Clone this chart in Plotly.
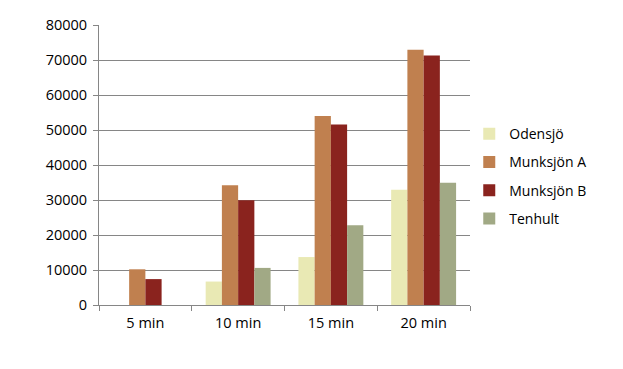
import plotly.graph_objects as go

categories = ["5 min", "10 min", "15 min", "20 min"]
odensjo = [0, 6700, 13700, 32900]
munksjon_a = [10200, 34200, 54000, 72900]
munksjon_b = [7400, 29900, 51600, 71300]
tenhult = [0, 10600, 22800, 34900]

series = [
    ("Odensjö", odensjo, "#E9E9B4"),
    ("Munksjön A", munksjon_a, "#C0804F"),
    ("Munksjön B", munksjon_b, "#8A231E"),
    ("Tenhult", tenhult, "#A1A985"),
]

fig = go.Figure()
for i, (name, vals, color) in enumerate(series):
    fig.add_trace(go.Bar(x=categories, y=vals, name=name, marker=dict(color=color, line=dict(width=0)),
                         legendgroup=f"g{i}"))

font = dict(family="Open Sans, Noto Sans, sans-serif", size=14, color="#000000")
tickfont = dict(family="Open Sans, Noto Sans, sans-serif", size=14.5, color="#000000")
fig.update_layout(
    width=623, height=369,
    margin=dict(l=91, r=161, t=17, b=72, autoexpand=False),
    paper_bgcolor="white", plot_bgcolor="white",
    barmode="group", bargap=0.30, bargroupgap=0,
    font=font,
    showlegend=True,
    legend=dict(x=0.998, y=0.46, xanchor="left", yanchor="middle", font=font,
                tracegroupgap=7, itemwidth=30, bgcolor="rgba(0,0,0,0)"),
    xaxis=dict(type="category", showline=True, linecolor="#868686", linewidth=1,
               ticks="outside", tickson="boundaries", ticklen=5, tickcolor="#868686",
               showgrid=False, tickfont=tickfont, ticklabelstandoff=5, automargin=False),
    yaxis=dict(range=[0, 80000], dtick=10000, showline=True, linecolor="#868686", linewidth=1,
               ticks="outside", ticklen=5, tickcolor="#868686",
               showgrid=True, gridcolor="#868686", gridwidth=1, zeroline=False,
               tickformat="d", tickfont=tickfont, ticklabelstandoff=3, automargin=False),
)
fig.write_html("out.html")
